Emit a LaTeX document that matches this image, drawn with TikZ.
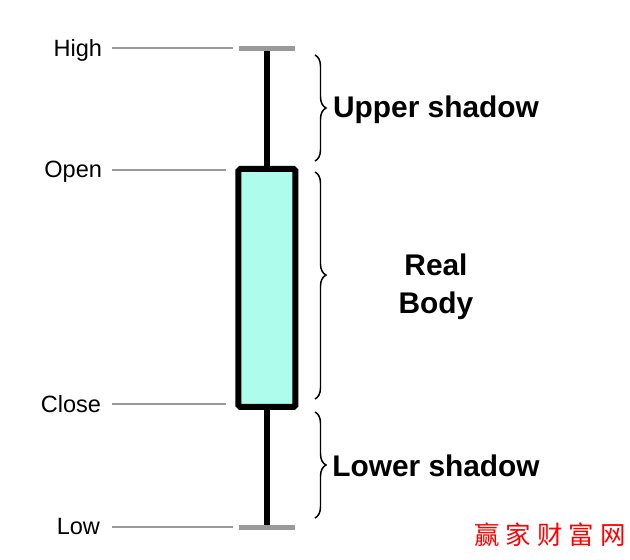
\documentclass[tikz,border=0pt]{standalone}
\usepackage{fontspec}
\setmainfont{Liberation Sans}
\newfontfamily\cjk{Noto Sans CJK SC}
\usepackage{xcolor}
\usetikzlibrary{decorations.pathreplacing}
\definecolor{capgray}{HTML}{999999}
\definecolor{bodycyan}{HTML}{ADFCEC}
\tikzset{
  pricelabel/.style={anchor=east,inner sep=0.2cm,outer sep=0pt,text height=0.4cm,text depth=0.08cm,font=\fontsize{13.4}{16}\selectfont},
  leader/.style={draw=capgray,line width=0.04cm},
  wick/.style={draw=black,line width=0.12cm},
  capbar/.style={fill=capgray,minimum width=1.12cm,minimum height=0.1cm,inner sep=0pt,outer sep=0pt},
  bracket/.style={draw=black,line width=0.03cm,decorate,decoration={brace,amplitude=0.22cm}},
  partlabel/.style={font=\fontsize{17}{21.5}\selectfont\bfseries,align=center,inner sep=0pt},
}
\begin{document}
\begin{tikzpicture}
\useasboundingbox (0,0) rectangle (12.6,11.2);
\node[capbar] (highcap) at (5.34,10.23) {};
\node[capbar] (lowcap) at (5.34,0.65) {};
\node[draw=black,line width=0.12cm,fill=bodycyan,rounded corners=1pt,minimum width=1.14cm,minimum height=4.76cm,inner sep=0pt] (body) at (5.34,5.44) {};
\draw[wick] (body.north -| highcap) -- (highcap.south);
\draw[wick] (body.south -| lowcap) -- (lowcap.north);
\node[pricelabel] (high) at (2.24,10.23) {High};
\node[pricelabel] (open) at (2.24,7.8) {Open};
\node[pricelabel] (close) at (2.22,3.11) {Close};
\node[pricelabel] (low) at (2.2,0.66) {Low};
\coordinate (highend) at (4.66,10.23);
\coordinate (openend) at (4.52,7.8);
\coordinate (closeend) at (4.52,3.11);
\coordinate (lowend) at (4.66,0.66);
\draw[leader] (high.east) -- (highend);
\draw[leader] (open.east) -- (openend);
\draw[leader] ([xshift=0.02cm]close.east) -- (closeend);
\draw[leader] ([xshift=0.04cm]low.east) -- (lowend);
\draw[bracket] (6.3,10.1) -- (6.3,7.98);
\draw[bracket,decoration={aspect=0.454}] (6.3,7.76) -- (6.3,3.22);
\draw[bracket] (6.3,2.96) -- (6.3,0.84);
\node[partlabel] (upper) at (8.72,9.0) {Upper shadow};
\node[partlabel] (real) at (8.72,5.46) {Real\\Body};
\node[partlabel] (lower) at (8.72,1.88) {Lower shadow};
\node[font=\cjk\fontsize{14.5}{16}\selectfont,text=red,inner sep=0pt] (mark) at (11.0,0.5) {赢\hspace{0.12cm}家\hspace{0.12cm}财\hspace{0.12cm}富\hspace{0.12cm}网};
\end{tikzpicture}
\end{document}
